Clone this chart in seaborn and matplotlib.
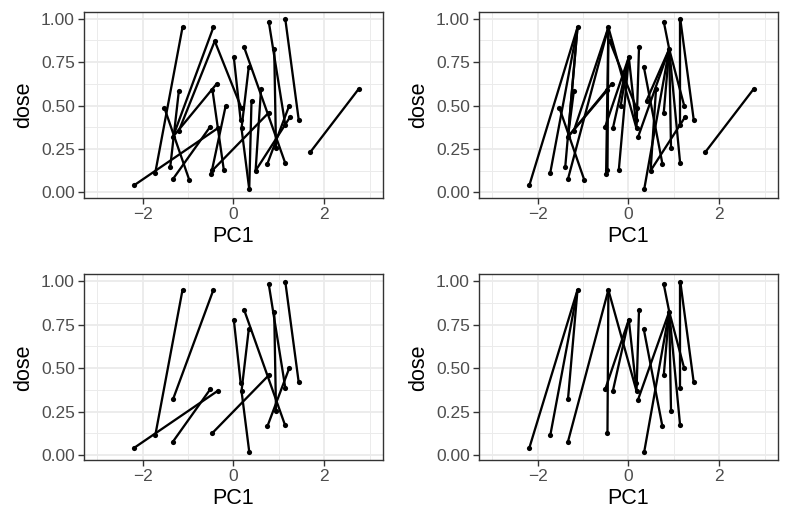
import matplotlib
matplotlib.use("Agg")
import matplotlib.pyplot as plt
from matplotlib.ticker import FixedLocator
import seaborn as sns
import pandas as pd

# ---- data: point coordinates (PC1, dose) ----
pc1 = [-2.18, -1.72, -1.52, -1.39, -1.33, -1.20, -1.12, -0.97, -1.33, -1.20,
       -0.51, -0.46, -0.37, -0.44, -0.41, -0.49, -0.34, -0.21, -0.17, 0.01,
       0.18, 0.16, 0.18, 0.235, 0.34, 0.40, 0.35, 0.49, 0.61, 0.75,
       0.78, 0.78, 0.90, 0.94, 1.145, 1.145, 1.14, 1.23, 1.25, 1.44,
       1.69, 2.76, -0.46, 0.21]
dose = [0.042, 0.113, 0.487, 0.147, 0.077, 0.585, 0.950, 0.071, 0.320, 0.355,
        0.378, 0.589, 0.624, 0.950, 0.871, 0.104, 0.370, 0.129, 0.497, 0.779,
        0.484, 0.417, 0.368, 0.837, 0.724, 0.528, 0.019, 0.125, 0.595, 0.165,
        0.459, 0.983, 0.825, 0.253, 0.996, 0.386, 0.171, 0.499, 0.434, 0.418,
        0.230, 0.595, 0.127, 0.316]

# ---- segments (pairs of point indices) for each panel ----
bottom_left = [(0, 16), (1, 6), (4, 10), (8, 13), (42, 30), (19, 21), (23, 36),
               (24, 22), (22, 26), (31, 35), (32, 33), (34, 39), (29, 37)]
top_left = bottom_left + [(2, 7), (3, 5), (14, 9), (12, 8), (11, 17), (18, 15),
                          (14, 20), (28, 27), (27, 38), (25, 26), (40, 41)]
bottom_right = [(6, 0), (6, 1), (6, 8), (13, 4), (13, 42), (13, 22), (19, 10),
                (19, 16), (19, 21), (23, 22), (24, 29), (32, 26), (32, 43),
                (32, 30), (32, 33), (32, 36), (31, 32), (32, 37), (34, 39), (34, 35)]
top_right = bottom_right + [(6, 3), (5, 8), (13, 9), (12, 8), (11, 8), (2, 7),
                            (19, 17), (19, 18), (14, 20), (32, 25), (27, 38),
                            (28, 27), (40, 41), (13, 15)]

x_ticks = [-2, 0, 2]
x_minor = [-3, -1, 1, 3]
y_ticks = [0.0, 0.25, 0.5, 0.75, 1.0]
y_minor = [0.125, 0.375, 0.625, 0.875]
y_tick_labels = ["0.00", "0.25", "0.50", "0.75", "1.00"]

sns.set_theme(style="white")
plt.rcParams['font.family'] = ['Liberation Sans', 'DejaVu Sans']

fig = plt.figure(figsize=(7.89, 5.26), dpi=100)
W, H = 789, 526
def box(l, t, r, b):
    return [l / W, 1 - b / H, (r - l) / W, (b - t) / H]

panels = [
    (box(84, 11.7, 382.7, 197.7), top_left),
    (box(479, 11.7, 777.7, 197.7), top_right),
    (box(84, 274.3, 382.7, 460.3), bottom_left),
    (box(479, 274.3, 777.7, 460.3), bottom_right),
]

for rect, segs in panels:
    ax = fig.add_axes(rect)
    rows = []
    used = []
    for k, (i, j) in enumerate(segs):
        rows.append({"seg": k, "PC1": pc1[i], "dose": dose[i]})
        rows.append({"seg": k, "PC1": pc1[j], "dose": dose[j]})
        used += [i, j]
    df = pd.DataFrame(rows)
    used = sorted(set(used))
    pts = pd.DataFrame({"PC1": [pc1[i] for i in used], "dose": [dose[i] for i in used]})
    sns.lineplot(data=df, x="PC1", y="dose", units="seg", estimator=None,
                 sort=False, color="black", lw=1.65, ax=ax, zorder=3)
    sns.scatterplot(data=pts, x="PC1", y="dose", color="black", s=14,
                    edgecolor="black", linewidth=0, ax=ax, zorder=4)
    ax.set_xlim(-3.29, 3.29)
    ax.set_ylim(-0.0305, 1.040)
    ax.xaxis.set_major_locator(FixedLocator(x_ticks))
    ax.xaxis.set_minor_locator(FixedLocator(x_minor))
    ax.yaxis.set_major_locator(FixedLocator(y_ticks))
    ax.yaxis.set_minor_locator(FixedLocator(y_minor))
    ax.set_xticklabels([str(v).replace("-", "\u2212") for v in x_ticks])
    ax.set_yticklabels(y_tick_labels)
    ax.grid(which="major", color="#EBEBEB", lw=1.3, zorder=0)
    ax.grid(which="minor", color="#EBEBEB", lw=0.7, zorder=0)
    ax.set_axisbelow(True)
    for sp in ax.spines.values():
        sp.set_color("#333333")
        sp.set_linewidth(1.0)
    ax.tick_params(which="major", axis="both", length=4, width=1.0, color="#333333",
                   labelsize=12.5, labelcolor="#4D4D4D", pad=2.5, bottom=True, left=True)
    ax.tick_params(which="minor", length=0)
    ax.set_xlabel("PC1", fontsize=15.5, color="black", labelpad=3)
    ax.set_ylabel("dose", fontsize=15.5, color="black", labelpad=5)

fig.savefig("out.png", dpi=100, facecolor="white")
